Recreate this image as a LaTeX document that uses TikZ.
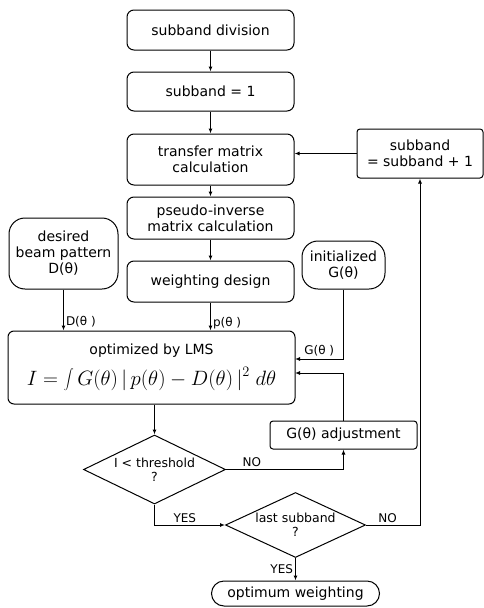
\documentclass[tikz,border=0pt]{standalone}
\usepackage{fontspec}
\setmainfont{DejaVu Sans}
\usetikzlibrary{arrows.meta,shapes.geometric}

\begin{document}
\begin{tikzpicture}[x=1pt,y=-1pt,line width=1pt,
  every node/.style={font=\fontsize{14}{16}\selectfont},
  box/.style={draw,rounded corners=7pt,minimum width=167pt,align=center,inner sep=2pt},
  dec/.style={draw,diamond,aspect=2,inner sep=0pt,minimum width=142pt,minimum height=69pt,align=center,font=\fontsize{12.5}{14}\selectfont},
  lbl/.style={font=\fontsize{12}{14}\selectfont,inner sep=2pt},
  arr/.style={-{Latex[length=5pt,width=4pt]}}]
\useasboundingbox (0,0) rectangle (483,608);
% main column
\node[box,minimum height=40pt] (div) at (210.5,30) {subband division};
\node[box,minimum height=39pt] (one) at (210.5,91.5) {subband = 1};
\node[box,minimum height=51pt] (trans) at (210.5,159.5) {transfer matrix\\calculation};
\node[box,minimum height=42pt] (pinv) at (210.5,218) {pseudo-inverse\\matrix calculation};
\node[box,minimum height=41pt] (wgt) at (210.5,281.5) {weighting design};
\node[box,rounded corners=3pt,minimum width=126pt,minimum height=49pt] (inc) at (420,153.5) {subband\\= subband + 1};
% inputs of the LMS block
\node[box,rounded corners=16pt,minimum width=109pt,minimum height=71pt] (des) at (63.5,253.5) {desired\\beam pattern\\D(θ)};
\node[box,rounded corners=16pt,minimum width=83pt,minimum height=48pt] (init) at (343.5,265) {initialized\\G(θ)};
\node[box,rounded corners=6pt,minimum width=287pt,minimum height=73pt] (lms) at (151.5,367.5)
  {optimized by LMS\\[9pt]{\fontsize{20}{22}\selectfont $\displaystyle I=\int G(\theta)\,|\,p(\theta)-D(\theta)\,|^2\;d\theta$}};
\coordinate (gin) at (295,359);
\coordinate (adjin) at (295,373);
\node[box,rounded corners=3pt,minimum width=147pt,minimum height=28pt] (adj) at (343.5,435) {G(θ) adjustment};
% decisions
\node[dec] (thr) at (154.5,469.5) {I < threshold\\?};
\node[dec,minimum width=140pt,minimum height=65pt] (last) at (295.5,525) {last subband\\?};
\node[box,rounded corners=12.5pt,minimum width=168pt,minimum height=25pt] (opt) at (295.5,593.5) {optimum weighting};

\draw[arr] (div) -- (one);
\draw[arr] (one) -- (trans);
\draw[arr] (trans) -- (pinv);
\draw[arr] (pinv) -- (wgt);
\draw[arr] (inc.west) -- (inc.west -| trans.east);
\draw[arr] (des.south) -- node[lbl,pos=0.78,right]{D(θ )} (des.south |- lms.north);
\draw[arr] (wgt.south) -- node[lbl,pos=0.72,right]{p(θ )} (wgt.south |- lms.north);
\draw[arr] (init.south) -- (init.south |- gin) -- node[lbl,midway,above]{G(θ )} (gin);
\draw[arr] (adj.north) -- (adj.north |- adjin) -- (adjin);
\draw[arr] (thr.north |- lms.south) -- (thr.north);
\draw[arr] (thr.east) -- node[lbl,pos=0.22,above]{NO} (thr.east -| adj.south) -- (adj.south);
\draw[arr] (thr.south) -- (thr.south |- last.west) -- node[lbl,pos=0.43,above]{YES} (last.west);
\draw[arr] (last.east) -- node[lbl,pos=0.4,above]{NO} (last.east -| inc.south) -- (inc.south);
\draw[arr] (last.south) -- node[lbl,midway,left]{YES} (opt.north);
\end{tikzpicture}
\end{document}
